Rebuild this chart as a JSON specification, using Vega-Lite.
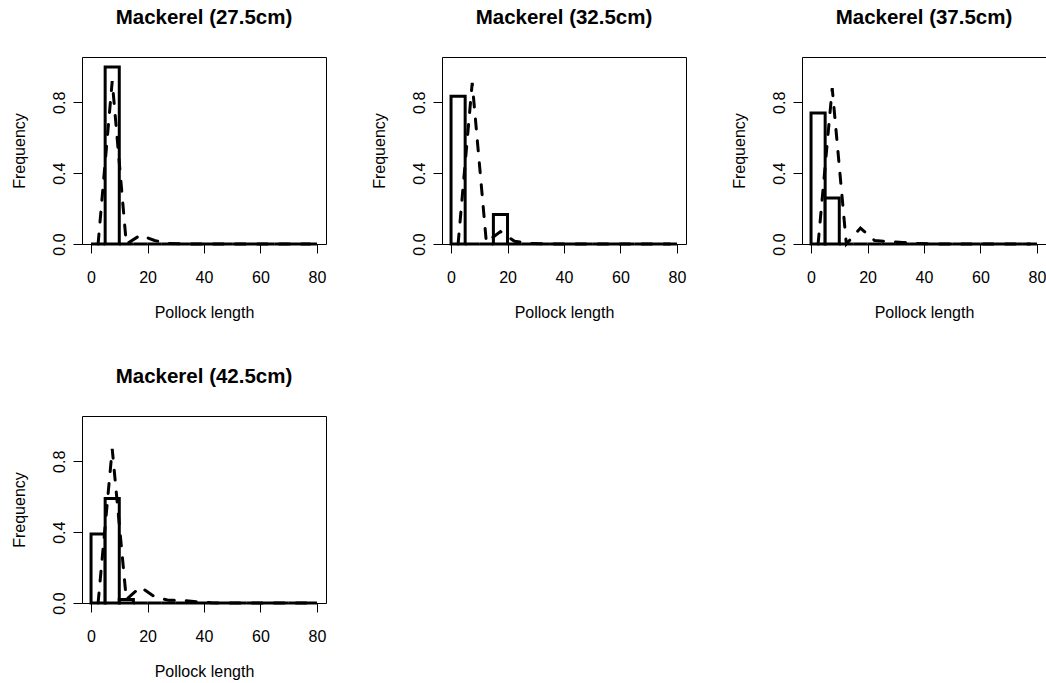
{
  "$schema": "https://vega.github.io/schema/vega-lite/v6.json",
  "background": "white",
  "padding": {"left": 10, "top": 7, "right": 0, "bottom": 0},
  "bounds": "flush",
  "columns": 3,
  "spacing": {"row": 172, "column": 116},
  "config": {
    "font": "Liberation Sans",
    "view": {"stroke": "black", "strokeWidth": 1},
    "title": {"font": "Liberation Sans", "fontSize": 20.5, "fontWeight": "bold", "color": "black", "anchor": "middle", "baseline": "alphabetic", "offset": 29},
    "axis": {"domain": false, "grid": false, "ticks": true, "tickColor": "black", "tickSize": 9, "tickWidth": 1, "labelFont": "Liberation Sans", "labelFontSize": 16, "labelColor": "black", "titleFont": "Liberation Sans", "titleFontSize": 16, "titleFontWeight": "normal", "titleColor": "black", "labelOverlap": false, "labelFlush": false},
    "axisX": {"labelPadding": 16, "titlePadding": 19},
    "axisY": {"labelAngle": -90, "labelPadding": 6, "titlePadding": 24}
  },
  "datasets": {
    "bars": [
      {"panel": "27.5", "x0": 0, "x1": 5, "freq": 0}, {"panel": "27.5", "x0": 5, "x1": 10, "freq": 1.0}, {"panel": "27.5", "x0": 10, "x1": 15, "freq": 0}, {"panel": "27.5", "x0": 15, "x1": 20, "freq": 0},
      {"panel": "27.5", "x0": 20, "x1": 25, "freq": 0}, {"panel": "27.5", "x0": 25, "x1": 30, "freq": 0}, {"panel": "27.5", "x0": 30, "x1": 35, "freq": 0}, {"panel": "27.5", "x0": 35, "x1": 40, "freq": 0},
      {"panel": "27.5", "x0": 40, "x1": 45, "freq": 0}, {"panel": "27.5", "x0": 45, "x1": 50, "freq": 0}, {"panel": "27.5", "x0": 50, "x1": 55, "freq": 0}, {"panel": "27.5", "x0": 55, "x1": 60, "freq": 0},
      {"panel": "27.5", "x0": 60, "x1": 65, "freq": 0}, {"panel": "27.5", "x0": 65, "x1": 70, "freq": 0}, {"panel": "27.5", "x0": 70, "x1": 75, "freq": 0}, {"panel": "27.5", "x0": 75, "x1": 80, "freq": 0},
      {"panel": "32.5", "x0": 0, "x1": 5, "freq": 0.835}, {"panel": "32.5", "x0": 5, "x1": 10, "freq": 0}, {"panel": "32.5", "x0": 10, "x1": 15, "freq": 0}, {"panel": "32.5", "x0": 15, "x1": 20, "freq": 0.167},
      {"panel": "32.5", "x0": 20, "x1": 25, "freq": 0}, {"panel": "32.5", "x0": 25, "x1": 30, "freq": 0}, {"panel": "32.5", "x0": 30, "x1": 35, "freq": 0}, {"panel": "32.5", "x0": 35, "x1": 40, "freq": 0},
      {"panel": "32.5", "x0": 40, "x1": 45, "freq": 0}, {"panel": "32.5", "x0": 45, "x1": 50, "freq": 0}, {"panel": "32.5", "x0": 50, "x1": 55, "freq": 0}, {"panel": "32.5", "x0": 55, "x1": 60, "freq": 0},
      {"panel": "32.5", "x0": 60, "x1": 65, "freq": 0}, {"panel": "32.5", "x0": 65, "x1": 70, "freq": 0}, {"panel": "32.5", "x0": 70, "x1": 75, "freq": 0}, {"panel": "32.5", "x0": 75, "x1": 80, "freq": 0},
      {"panel": "37.5", "x0": 0, "x1": 5, "freq": 0.74}, {"panel": "37.5", "x0": 5, "x1": 10, "freq": 0.26}, {"panel": "37.5", "x0": 10, "x1": 15, "freq": 0}, {"panel": "37.5", "x0": 15, "x1": 20, "freq": 0},
      {"panel": "37.5", "x0": 20, "x1": 25, "freq": 0}, {"panel": "37.5", "x0": 25, "x1": 30, "freq": 0}, {"panel": "37.5", "x0": 30, "x1": 35, "freq": 0}, {"panel": "37.5", "x0": 35, "x1": 40, "freq": 0},
      {"panel": "37.5", "x0": 40, "x1": 45, "freq": 0}, {"panel": "37.5", "x0": 45, "x1": 50, "freq": 0}, {"panel": "37.5", "x0": 50, "x1": 55, "freq": 0}, {"panel": "37.5", "x0": 55, "x1": 60, "freq": 0},
      {"panel": "37.5", "x0": 60, "x1": 65, "freq": 0}, {"panel": "37.5", "x0": 65, "x1": 70, "freq": 0}, {"panel": "37.5", "x0": 70, "x1": 75, "freq": 0}, {"panel": "37.5", "x0": 75, "x1": 80, "freq": 0},
      {"panel": "42.5", "x0": 0, "x1": 5, "freq": 0.39}, {"panel": "42.5", "x0": 5, "x1": 10, "freq": 0.59}, {"panel": "42.5", "x0": 10, "x1": 15, "freq": 0.02}, {"panel": "42.5", "x0": 15, "x1": 20, "freq": 0},
      {"panel": "42.5", "x0": 20, "x1": 25, "freq": 0}, {"panel": "42.5", "x0": 25, "x1": 30, "freq": 0}, {"panel": "42.5", "x0": 30, "x1": 35, "freq": 0}, {"panel": "42.5", "x0": 35, "x1": 40, "freq": 0},
      {"panel": "42.5", "x0": 40, "x1": 45, "freq": 0}, {"panel": "42.5", "x0": 45, "x1": 50, "freq": 0}, {"panel": "42.5", "x0": 50, "x1": 55, "freq": 0}, {"panel": "42.5", "x0": 55, "x1": 60, "freq": 0},
      {"panel": "42.5", "x0": 60, "x1": 65, "freq": 0}, {"panel": "42.5", "x0": 65, "x1": 70, "freq": 0}, {"panel": "42.5", "x0": 70, "x1": 75, "freq": 0}, {"panel": "42.5", "x0": 75, "x1": 80, "freq": 0}
    ],
    "dens": [
      {"panel": "27.5", "x": 2.5, "d": 0}, {"panel": "27.5", "x": 7.5, "d": 0.92}, {"panel": "27.5", "x": 12.5, "d": 0}, {"panel": "27.5", "x": 17.5, "d": 0.05},
      {"panel": "27.5", "x": 22.5, "d": 0.02}, {"panel": "27.5", "x": 27.5, "d": 0.003}, {"panel": "27.5", "x": 32.5, "d": 0.001}, {"panel": "27.5", "x": 37.5, "d": 0},
      {"panel": "27.5", "x": 42.5, "d": 0}, {"panel": "27.5", "x": 47.5, "d": 0}, {"panel": "27.5", "x": 52.5, "d": 0}, {"panel": "27.5", "x": 57.5, "d": 0},
      {"panel": "27.5", "x": 62.5, "d": 0}, {"panel": "27.5", "x": 67.5, "d": 0}, {"panel": "27.5", "x": 72.5, "d": 0}, {"panel": "27.5", "x": 77.5, "d": 0},
      {"panel": "32.5", "x": 2.5, "d": 0}, {"panel": "32.5", "x": 7.5, "d": 0.91}, {"panel": "32.5", "x": 12.5, "d": 0.01}, {"panel": "32.5", "x": 17.5, "d": 0.07},
      {"panel": "32.5", "x": 22.5, "d": 0.015}, {"panel": "32.5", "x": 27.5, "d": 0.004}, {"panel": "32.5", "x": 32.5, "d": 0.001}, {"panel": "32.5", "x": 37.5, "d": 0},
      {"panel": "32.5", "x": 42.5, "d": 0}, {"panel": "32.5", "x": 47.5, "d": 0}, {"panel": "32.5", "x": 52.5, "d": 0}, {"panel": "32.5", "x": 57.5, "d": 0},
      {"panel": "32.5", "x": 62.5, "d": 0}, {"panel": "32.5", "x": 67.5, "d": 0}, {"panel": "32.5", "x": 72.5, "d": 0}, {"panel": "32.5", "x": 77.5, "d": 0},
      {"panel": "37.5", "x": 2.5, "d": 0}, {"panel": "37.5", "x": 7.5, "d": 0.88}, {"panel": "37.5", "x": 12.5, "d": 0}, {"panel": "37.5", "x": 17.5, "d": 0.09},
      {"panel": "37.5", "x": 22.5, "d": 0.02}, {"panel": "37.5", "x": 27.5, "d": 0.013}, {"panel": "37.5", "x": 32.5, "d": 0.009}, {"panel": "37.5", "x": 37.5, "d": 0.003},
      {"panel": "37.5", "x": 42.5, "d": 0}, {"panel": "37.5", "x": 47.5, "d": 0}, {"panel": "37.5", "x": 52.5, "d": 0}, {"panel": "37.5", "x": 57.5, "d": 0},
      {"panel": "37.5", "x": 62.5, "d": 0}, {"panel": "37.5", "x": 67.5, "d": 0}, {"panel": "37.5", "x": 72.5, "d": 0}, {"panel": "37.5", "x": 77.5, "d": 0},
      {"panel": "42.5", "x": 2.5, "d": 0}, {"panel": "42.5", "x": 7.5, "d": 0.87}, {"panel": "42.5", "x": 12.5, "d": 0.02}, {"panel": "42.5", "x": 17.5, "d": 0.09},
      {"panel": "42.5", "x": 22.5, "d": 0.035}, {"panel": "42.5", "x": 27.5, "d": 0.015}, {"panel": "42.5", "x": 32.5, "d": 0.015}, {"panel": "42.5", "x": 37.5, "d": 0.007},
      {"panel": "42.5", "x": 42.5, "d": 0.001}, {"panel": "42.5", "x": 47.5, "d": 0}, {"panel": "42.5", "x": 52.5, "d": 0}, {"panel": "42.5", "x": 57.5, "d": 0},
      {"panel": "42.5", "x": 62.5, "d": 0}, {"panel": "42.5", "x": 67.5, "d": 0}, {"panel": "42.5", "x": 72.5, "d": 0}, {"panel": "42.5", "x": 77.5, "d": 0}
    ]
  },
  "concat": [
    {
      "title": "Mackerel (27.5cm)", "width": 244, "height": 187,
      "layer": [
        {"data": {"name": "bars"}, "transform": [{"filter": "datum.panel == '27.5'"}],
         "mark": {"type": "bar", "fill": "white", "stroke": "black", "strokeWidth": 3, "strokeJoin": "miter"},
         "encoding": {
           "x": {"field": "x0", "type": "quantitative", "title": "Pollock length", "scale": {"domain": [-3.2, 83.2], "nice": false, "zero": false}, "axis": {"values": [0, 20, 40, 60, 80]}},
           "x2": {"field": "x1"},
           "y": {"field": "freq", "type": "quantitative", "title": "Frequency", "stack": null, "scale": {"domain": [0, 1.056], "nice": false}, "axis": {"values": [0, 0.2, 0.4, 0.6, 0.8, 1.0], "labelExpr": "datum.value === 0 ? '0.0' : (abs(datum.value - 0.4) < 0.001 ? '0.4' : (abs(datum.value - 0.8) < 0.001 ? '0.8' : ''))"}},
           "y2": {"datum": 0}
         }},
        {"data": {"name": "dens"}, "transform": [{"filter": "datum.panel == '27.5'"}],
         "mark": {"type": "line", "stroke": "black", "strokeWidth": 3, "strokeDash": [10, 12], "strokeCap": "round"},
         "encoding": {
           "x": {"field": "x", "type": "quantitative", "title": "Pollock length"},
           "y": {"field": "d", "type": "quantitative", "title": "Frequency"}
         }}
      ]
    },
    {
      "title": "Mackerel (32.5cm)", "width": 244, "height": 187,
      "layer": [
        {"data": {"name": "bars"}, "transform": [{"filter": "datum.panel == '32.5'"}],
         "mark": {"type": "bar", "fill": "white", "stroke": "black", "strokeWidth": 3, "strokeJoin": "miter"},
         "encoding": {
           "x": {"field": "x0", "type": "quantitative", "title": "Pollock length", "scale": {"domain": [-3.2, 83.2], "nice": false, "zero": false}, "axis": {"values": [0, 20, 40, 60, 80]}},
           "x2": {"field": "x1"},
           "y": {"field": "freq", "type": "quantitative", "title": "Frequency", "stack": null, "scale": {"domain": [0, 1.056], "nice": false}, "axis": {"values": [0, 0.2, 0.4, 0.6, 0.8, 1.0], "labelExpr": "datum.value === 0 ? '0.0' : (abs(datum.value - 0.4) < 0.001 ? '0.4' : (abs(datum.value - 0.8) < 0.001 ? '0.8' : ''))"}},
           "y2": {"datum": 0}
         }},
        {"data": {"name": "dens"}, "transform": [{"filter": "datum.panel == '32.5'"}],
         "mark": {"type": "line", "stroke": "black", "strokeWidth": 3, "strokeDash": [10, 12], "strokeCap": "round"},
         "encoding": {
           "x": {"field": "x", "type": "quantitative", "title": "Pollock length"},
           "y": {"field": "d", "type": "quantitative", "title": "Frequency"}
         }}
      ]
    },
    {
      "title": "Mackerel (37.5cm)", "width": 244, "height": 187,
      "layer": [
        {"data": {"name": "bars"}, "transform": [{"filter": "datum.panel == '37.5'"}],
         "mark": {"type": "bar", "fill": "white", "stroke": "black", "strokeWidth": 3, "strokeJoin": "miter"},
         "encoding": {
           "x": {"field": "x0", "type": "quantitative", "title": "Pollock length", "scale": {"domain": [-3.2, 83.2], "nice": false, "zero": false}, "axis": {"values": [0, 20, 40, 60, 80]}},
           "x2": {"field": "x1"},
           "y": {"field": "freq", "type": "quantitative", "title": "Frequency", "stack": null, "scale": {"domain": [0, 1.056], "nice": false}, "axis": {"values": [0, 0.2, 0.4, 0.6, 0.8, 1.0], "labelExpr": "datum.value === 0 ? '0.0' : (abs(datum.value - 0.4) < 0.001 ? '0.4' : (abs(datum.value - 0.8) < 0.001 ? '0.8' : ''))"}},
           "y2": {"datum": 0}
         }},
        {"data": {"name": "dens"}, "transform": [{"filter": "datum.panel == '37.5'"}],
         "mark": {"type": "line", "stroke": "black", "strokeWidth": 3, "strokeDash": [10, 12], "strokeCap": "round"},
         "encoding": {
           "x": {"field": "x", "type": "quantitative", "title": "Pollock length"},
           "y": {"field": "d", "type": "quantitative", "title": "Frequency"}
         }}
      ]
    },
    {
      "title": "Mackerel (42.5cm)", "width": 244, "height": 187,
      "layer": [
        {"data": {"name": "bars"}, "transform": [{"filter": "datum.panel == '42.5'"}],
         "mark": {"type": "bar", "fill": "white", "stroke": "black", "strokeWidth": 3, "strokeJoin": "miter"},
         "encoding": {
           "x": {"field": "x0", "type": "quantitative", "title": "Pollock length", "scale": {"domain": [-3.2, 83.2], "nice": false, "zero": false}, "axis": {"values": [0, 20, 40, 60, 80]}},
           "x2": {"field": "x1"},
           "y": {"field": "freq", "type": "quantitative", "title": "Frequency", "stack": null, "scale": {"domain": [0, 1.056], "nice": false}, "axis": {"values": [0, 0.2, 0.4, 0.6, 0.8, 1.0], "labelExpr": "datum.value === 0 ? '0.0' : (abs(datum.value - 0.4) < 0.001 ? '0.4' : (abs(datum.value - 0.8) < 0.001 ? '0.8' : ''))"}},
           "y2": {"datum": 0}
         }},
        {"data": {"name": "dens"}, "transform": [{"filter": "datum.panel == '42.5'"}],
         "mark": {"type": "line", "stroke": "black", "strokeWidth": 3, "strokeDash": [10, 12], "strokeCap": "round"},
         "encoding": {
           "x": {"field": "x", "type": "quantitative", "title": "Pollock length"},
           "y": {"field": "d", "type": "quantitative", "title": "Frequency"}
         }}
      ]
    }
  ]
}
